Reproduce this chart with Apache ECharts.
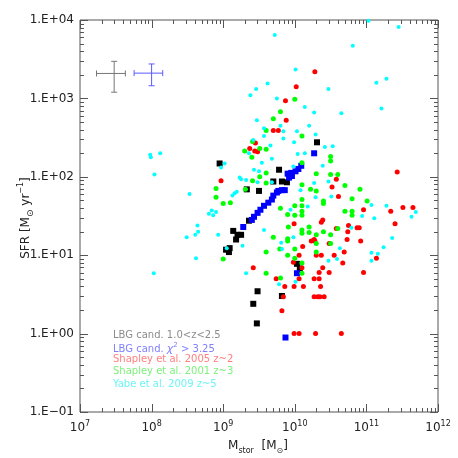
<!DOCTYPE html>
<html>
<head>
<meta charset="utf-8">
<script src="https://cdn.jsdelivr.net/npm/echarts@6/dist/echarts.min.js"></script>
<style>
html, body { margin: 0; padding: 0; background: #fff; }
#chart { width: 458px; height: 458px; }
</style>
</head>
<body>
<div id="chart"></div>
<script>
// all points stored as [log10 M_star, log10 SFR]
var lbgLowZ = [
  [8.95,2.17],[9.78,2.09],[9.70,1.94],[9.82,1.94],[9.89,1.93],[9.33,1.84],[9.50,1.82],
  [9.36,1.44],[9.14,1.31],[9.20,1.26],[9.25,1.26],[9.18,1.20],[9.04,1.07],[9.09,1.09],
  [9.08,1.04],[10.03,0.89],[10.07,0.83],[9.48,0.54],[9.82,0.48],[9.42,0.38],[9.47,0.13],
  [10.31,2.44]
];
var lbgChi2 = [
  [10.27,2.30],[10.09,2.14],[10.05,2.10],[10.01,2.07],[9.95,2.05],[9.90,2.04],[9.96,2.01],
  [9.92,1.99],[9.86,1.83],[9.82,1.83],[9.77,1.82],[9.75,1.80],[9.70,1.76],[9.68,1.71],
  [9.63,1.67],[9.57,1.63],[9.52,1.58],[9.48,1.54],[9.43,1.49],[9.40,1.45],[9.28,1.36],
  [10.03,0.77],[9.87,-0.05]
];
var shapley05 = [
  [10.02,3.15],[9.87,2.97],[9.88,2.72],[9.70,2.59],[9.77,2.59],[9.45,2.43],[9.37,2.36],
  [9.44,2.33],[9.48,2.32],[10.28,3.34],[8.97,1.95],[9.99,1.40],[10.11,1.11],[10.06,1.00],
  [9.98,0.91],[10.10,0.84],[9.42,0.84],[9.74,0.70],[10.06,0.70],[9.86,0.60],[9.99,0.60],
  [10.12,0.60],[9.84,0.47],[10.58,1.97],[10.52,1.87],[10.61,1.75],[11.43,2.06],[10.96,1.58],
  [11.34,1.56],[11.51,1.61],[11.65,1.61],[11.40,1.40],[10.39,1.45],[10.37,1.42],[10.75,1.38],
  [10.87,1.35],[10.90,1.35],[10.58,1.34],[10.74,1.30],[10.73,1.20],[10.92,1.18],[10.27,1.20],
  [10.23,1.18],[10.28,1.18],[10.48,1.15],[10.69,1.04],[10.55,1.00],[10.30,1.00],[10.37,1.00],
  [11.14,0.96],[10.67,0.90],[10.39,0.84],[10.34,0.78],[10.48,0.78],[10.96,0.78],[10.27,0.70],
  [10.34,0.70],[10.36,0.60],[10.27,0.47],[10.32,0.47],[10.35,0.47],[10.41,0.47],[9.82,0.29],
  [9.99,0.00],[10.06,0.00],[10.29,0.00],[10.65,0.00]
];
var shapley01 = [
  [10.00,2.99],[9.80,2.83],[9.70,2.74],[9.60,2.59],[10.10,2.52],[9.41,2.45],[9.30,2.33],
  [9.51,2.36],[9.60,2.35],[9.40,2.25],[10.50,2.26],[10.50,2.20],[8.90,1.85],[8.90,1.74],
  [9.00,1.66],[9.10,1.67],[9.41,1.95],[9.51,2.00],[9.60,2.05],[9.60,1.92],[9.31,1.84],
  [10.10,2.18],[10.10,1.90],[10.10,1.71],[10.10,1.63],[10.10,1.56],[10.10,1.51],[10.00,1.63],
  [9.90,1.52],[10.00,1.51],[9.80,1.60],[9.91,1.36],[10.10,1.32],[10.10,1.28],[10.20,1.36],
  [10.20,1.29],[9.70,1.23],[9.90,1.21],[9.90,1.18],[9.79,1.08],[10.00,1.08],[9.60,1.04],
  [9.90,1.00],[10.00,0.96],[10.10,0.90],[10.10,0.77],[9.60,0.77],[9.80,0.71],[9.00,0.95],
  [10.30,2.04],[10.50,2.03],[10.60,2.03],[10.22,1.84],[10.30,1.82],[10.70,1.89],[10.91,1.84],
  [10.80,1.72],[10.40,1.69],[10.40,1.66],[11.01,1.69],[10.70,1.56],[10.80,1.56],[10.80,1.51],
  [10.40,1.30],[10.60,1.34],[10.30,1.26],[10.50,1.26],[10.30,1.15],[10.50,1.15],[10.30,1.04]
];
var yabe09 = [
  [9.72,3.81],[10.01,3.37],[9.62,3.19],[9.46,3.12],[9.38,3.04],[9.75,3.00],[10.14,2.89],
  [9.47,2.72],[9.57,2.62],[9.80,2.65],[9.84,2.58],[9.57,2.52],[9.84,2.49],[10.20,2.65],
  [10.03,2.58],[9.99,2.44],[9.42,2.47],[9.66,2.40],[9.36,2.30],[10.04,2.29],[10.14,2.30],
  [9.68,2.23],[8.12,2.30],[7.98,2.28],[7.99,2.25],[11.03,3.99],[11.45,3.91],[10.81,3.67],
  [11.28,3.25],[11.14,3.20],[10.47,3.12],[11.21,2.87],[10.27,2.82],[10.65,2.81],[10.29,2.54],
  [10.42,2.38],[10.53,2.39],[8.97,2.12],[9.02,2.17],[8.04,2.03],[8.53,1.78],[8.80,1.53],
  [8.84,1.57],[8.86,1.51],[8.90,1.55],[8.64,1.38],[8.65,1.30],[8.61,1.26],[8.49,1.23],
  [8.93,1.26],[8.62,0.96],[8.03,0.77],[9.05,1.09],[9.27,1.12],[9.23,1.99],[9.25,1.97],
  [9.32,1.96],[9.13,1.76],[9.16,1.79],[9.19,1.81],[9.50,2.07],[9.54,2.18],[9.43,2.09],
  [9.48,1.93],[9.68,1.93],[9.57,1.32],[9.98,2.13],[10.08,1.83],[10.18,1.62],[9.94,1.58],
  [9.98,1.23],[9.81,1.16],[9.82,1.08],[9.32,0.77],[9.78,0.63],[10.01,0.66],[10.39,2.14],
  [10.27,1.92],[10.47,1.94],[10.29,1.74],[10.51,1.75],[11.07,1.64],[11.28,1.63],[10.94,1.50],
  [11.11,1.47],[11.69,1.55],[11.63,1.49],[10.79,1.35],[11.36,1.22],[11.24,1.10],[10.63,1.09],
  [11.07,1.03],[11.16,1.02],[10.59,0.95],[10.47,0.93],[11.07,0.93]
];
// typical error bars: [M, Mlo, Mhi, SFR, SFRlo, SFRhi]
var errGray = [3.0e7, 1.7e7, 4.3e7, 2080, 1200, 2970];
var errBlue = [1.0e8, 5.7e7, 1.43e8, 2100, 1450, 2750];

var xExp = [7, 8, 9, 10, 11, 12];
var yExp = [-1, 0, 1, 2, 3, 4];
var legendLines = [
  ['{n|LBG cand. 1.0<z<2.5}', '#8c8c8c'],
  ['{n|LBG cand. }{c|χ}{p|2}{n| > 3.25}', '#8080ff'],
  ['{n|Shapley et al. 2005 z~2}', '#ff8080'],
  ['{n|Shapley et al. 2001 z~3}', '#7cf07c'],
  ['{n|Yabe et al. 2009 z~5}', '#70f4f4']
];

function lin(arr) {
  return arr.map(function (p) { return [Math.pow(10, p[0]), Math.pow(10, p[1])]; });
}

var xMajor = xExp.map(function (e) { return Math.pow(10, e); });
var yMajor = yExp.map(function (e) { return Math.pow(10, e); });
var xMinor = [], yMinor = [];
xExp.slice(0, -1).forEach(function (e) {
  for (var k = 2; k < 10; k++) xMinor.push(k * Math.pow(10, e));
});
yExp.slice(0, -1).forEach(function (e) {
  for (var k = 2; k < 10; k++) yMinor.push(k * Math.pow(10, e));
});

var chart = echarts.init(document.getElementById('chart'));
var FONT = 'DejaVu Sans';
var axisCol = '#555';

function tickItem(params, api) {
  var cs = params.coordSys;
  var kids = [];
  var st = { stroke: axisCol, lineWidth: 1 };
  function add(x1, y1, x2, y2) {
    kids.push({ type: 'line', shape: { x1: x1, y1: y1, x2: x2, y2: y2 }, style: st });
  }
  var bot = cs.y + cs.height, rgt = cs.x + cs.width;
  xMajor.concat(xMinor).forEach(function (v, i) {
    var len = i < xMajor.length ? 8 : 4;
    var x = Math.round(api.coord([v, 1])[0]) + 0.5;
    add(x, bot, x, bot - len);
    add(x, cs.y, x, cs.y + len);
  });
  yMajor.concat(yMinor).forEach(function (v, i) {
    var len = i < yMajor.length ? 8 : 4;
    var y = Math.round(api.coord([1e9, v])[1]) + 0.5;
    add(cs.x, y, cs.x + len, y);
    add(rgt, y, rgt - len, y);
  });
  return { type: 'group', children: kids };
}

function errItem(params, api) {
  var c = api.coord([api.value(0), api.value(3)]);
  var l = api.coord([api.value(1), api.value(3)]);
  var r = api.coord([api.value(2), api.value(3)]);
  var b = api.coord([api.value(0), api.value(4)]);
  var t = api.coord([api.value(0), api.value(5)]);
  var st = { stroke: api.visual('color'), lineWidth: 1 };
  var cap = 3;
  function ln(x1, y1, x2, y2) {
    return { type: 'line', shape: { x1: x1, y1: y1, x2: x2, y2: y2 }, style: st };
  }
  return {
    type: 'group',
    children: [
      ln(l[0], c[1], r[0], c[1]),
      ln(c[0], t[1], c[0], b[1]),
      ln(l[0], c[1] - cap, l[0], c[1] + cap),
      ln(r[0], c[1] - cap, r[0], c[1] + cap),
      ln(c[0] - cap, t[1], c[0] + cap, t[1]),
      ln(c[0] - cap, b[1], c[0] + cap, b[1])
    ]
  };
}

var graphics = [];
legendLines.forEach(function (ln, i) {
  var ys = [337, 349, 361, 373.5, 386];
  graphics.push({
    type: 'text', left: 113, top: ys[i] - 7,
    style: {
      text: ln[0], fill: ln[1],
      rich: {
        n: { fontFamily: FONT, fontSize: 10, fill: ln[1], lineHeight: 14, verticalAlign: 'middle' },
        c: { fontFamily: FONT, fontSize: 11, fontStyle: 'italic', fill: ln[1], lineHeight: 14, verticalAlign: 'middle' },
        p: { fontFamily: FONT, fontSize: 7, fill: ln[1], lineHeight: 14, verticalAlign: 'top' }
      }
    }
  });
});
// axis titles
graphics.push({
  type: 'text', x: 26, y: 218, rotation: Math.PI / 2,
  style: {
    text: '{n|SFR [M}{s|⊙}{n| yr}{p|−1}{n|]}',
    align: 'center', verticalAlign: 'middle',
    rich: {
      n: { fontFamily: FONT, fontSize: 12, fill: '#222', lineHeight: 18, verticalAlign: 'middle' },
      s: { fontFamily: FONT, fontSize: 9, fill: '#222', lineHeight: 18, verticalAlign: 'bottom' },
      p: { fontFamily: FONT, fontSize: 8, fill: '#222', lineHeight: 18, verticalAlign: 'top' }
    }
  }
});
graphics.push({
  type: 'text', x: 258, y: 446,
  style: {
    text: '{n|M}{s|stor}{n|  [M}{s|⊙}{n|]}',
    align: 'center', verticalAlign: 'middle',
    rich: {
      n: { fontFamily: FONT, fontSize: 12, fill: '#222', lineHeight: 18, verticalAlign: 'middle' },
      s: { fontFamily: FONT, fontSize: 8, fill: '#222', lineHeight: 18, verticalAlign: 'bottom' }
    }
  }
});

var option = {
  backgroundColor: '#fff',
  animation: false,
  grid: { left: 80, right: 20, top: 20, bottom: 46, show: true, borderColor: axisCol, borderWidth: 1 },
  xAxis: {
    type: 'log', logBase: 10, min: 1e7, max: 1e12,
    axisLine: { show: false }, axisTick: { show: false }, splitLine: { show: false },
    axisLabel: {
      margin: 8,
      formatter: function (v) {
        var e = Math.round(Math.log10(v));
        return '{b|10}{p|' + e + '}';
      },
      rich: {
        b: { fontFamily: FONT, fontSize: 12, color: '#222', lineHeight: 16, verticalAlign: 'middle' },
        p: { fontFamily: FONT, fontSize: 8, color: '#222', lineHeight: 16, verticalAlign: 'top' }
      }
    }
  },
  yAxis: {
    type: 'log', logBase: 10, min: 0.1, max: 1e4,
    axisLine: { show: false }, axisTick: { show: false }, splitLine: { show: false },
    axisLabel: {
      margin: 6, fontFamily: FONT, fontSize: 12, color: '#222',
      formatter: function (v) {
        var e = Math.round(Math.log10(v));
        var s = e < 0 ? '−' : '+';
        var a = Math.abs(e);
        return '1.E' + s + (a < 10 ? '0' : '') + a;
      }
    }
  },
  graphic: graphics,
  series: [
    { type: 'custom', renderItem: tickItem, data: [[1e9, 1]], silent: true, z: 1 },
    { type: 'custom', renderItem: errItem, data: [errGray], itemStyle: { color: '#777' },
      encode: { x: 0, y: 3 }, silent: true, z: 2 },
    { type: 'custom', renderItem: errItem, data: [errBlue], itemStyle: { color: '#5a5aff' },
      encode: { x: 0, y: 3 }, silent: true, z: 2 },
    { type: 'scatter', data: lin(lbgLowZ), symbol: 'rect', symbolSize: 6,
      itemStyle: { color: '#000', opacity: 1 }, z: 3 },
    { type: 'scatter', data: lin(lbgChi2), symbol: 'rect', symbolSize: 6,
      itemStyle: { color: '#0000ff', opacity: 1 }, z: 4 },
    { type: 'scatter', data: lin(shapley05), symbol: 'circle', symbolSize: 5,
      itemStyle: { color: '#ff0000', opacity: 1 }, z: 5 },
    { type: 'scatter', data: lin(shapley01), symbol: 'circle', symbolSize: 5,
      itemStyle: { color: '#00ff00', opacity: 1 }, z: 6 },
    { type: 'scatter', data: lin(yabe09), symbol: 'circle', symbolSize: 4,
      itemStyle: { color: '#00ffff', opacity: 1 }, z: 7 }
  ]
};
chart.setOption(option);
</script>
</body>
</html>
